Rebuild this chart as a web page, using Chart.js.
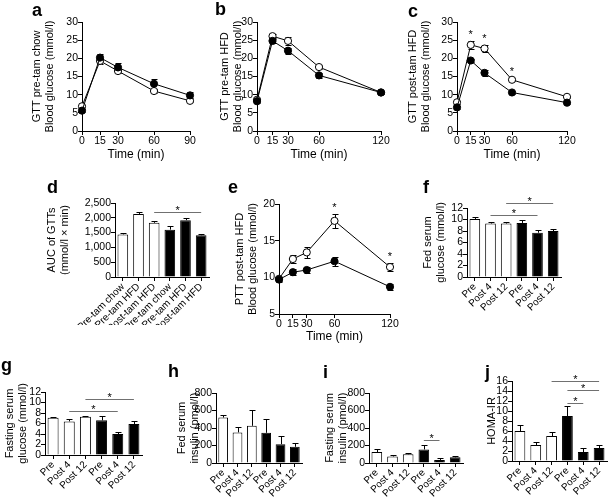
<!DOCTYPE html>
<html>
<head>
<meta charset="utf-8">
<script src="https://cdn.jsdelivr.net/npm/chart.js@4.4.0/dist/chart.umd.min.js"></script>
<style>
  html, body { margin: 0; padding: 0; background: #fff; }
  #fig { position: relative; width: 609px; height: 497px; overflow: hidden; }
  #fig canvas { position: absolute; }
  .lt { position: absolute; font: bold 18px 'Liberation Sans', Arial, sans-serif; line-height: 18px; color: #000; }
</style>
</head>
<body>
<div id="fig"></div>
<script>
/* ─── data ─── */
const timesA = [0, 15, 30, 60, 90];
const timesB = [0, 15, 30, 60, 120];

// a: GTT pre-tam chow
const aBlack = [5.6, 20.2, 17.5, 13.0, 9.8];
const aBlackErr = [0.5, 1.1, 1.3, 1.4, 0.8];
const aWhite = [6.8, 19.3, 16.5, 11.0, 8.3];
const aWhiteErr = [0.3, 0.8, 0.6, 0.5, 0.4];

// b: GTT pre-tam HFD
const bBlack = [8.2, 24.8, 22.1, 15.3, 10.6];
const bBlackErr = [0.5, 0.5, 0.8, 0.6, 0.4];
const bWhite = [8.6, 26.1, 24.8, 17.6, 10.6];
const bWhiteErr = [0.5, 0.6, 1.0, 0.6, 0.4];

// c: GTT post-tam HFD
const cBlack = [6.5, 19.4, 16.0, 10.6, 7.8];
const cBlackErr = [0.4, 0.5, 0.8, 0.4, 0.3];
const cWhite = [7.9, 23.7, 22.7, 14.1, 9.4];
const cWhiteErr = [0.4, 1.0, 1.0, 0.4, 0.3];
const cStars = [15, 30, 60];

// e: PTT post-tam HFD
const eBlack = [9.7, 10.7, 11.0, 12.2, 8.7];
const eBlackErr = [0.4, 0.4, 0.4, 0.6, 0.4];
const eWhite = [9.8, 12.5, 13.4, 17.7, 11.4];
const eWhiteErr = [0.3, 0.5, 0.8, 1.0, 0.6];
const eStars = [60, 120];

// d: AUC
const aucLabels = ['Pre-tam chow', 'Pre-tam HFD', 'Post-tam HFD', 'Pre-tam chow', 'Pre-tam HFD', 'Post-tam HFD'];
const aucMean = [1440, 2130, 1830, 1600, 1920, 1410];
const aucErr = [40, 60, 50, 130, 80, 50];
const aucSig = [[2, 5, 2200]];

// f-j
const grpLabels = ['Pre', 'Post 4', 'Post 12', 'Pre', 'Post 4', 'Post 12'];
const fedGlu = [10.1, 9.3, 9.3, 9.4, 7.7, 8.0];
const fedGluErr = [0.3, 0.3, 0.3, 0.6, 0.4, 0.4];
const fedGluSig = [[1, 4, 10.8], [2, 5, 12.9]];

const fastGlu = [7.1, 6.4, 7.3, 6.6, 4.0, 5.9];
const fastGluErr = [0.2, 0.5, 0.2, 0.8, 0.3, 0.6];
const fastGluSig = [[1, 4, 8.4], [2, 5, 10.7]];

const fedIns = [520, 350, 425, 345, 215, 185];
const fedInsErr = [30, 60, 180, 160, 95, 40];

const fastIns = [125, 75, 100, 155, 35, 65];
const fastInsErr = [35, 15, 12, 55, 18, 12];
const fastInsSig = [[3, 4, 265]];

const homa = [6.0, 3.2, 5.0, 9.0, 1.8, 2.6];
const homaErr = [1.2, 0.7, 0.8, 2.1, 0.8, 0.6];
const homaSig = [[2, 5, 16], [3, 5, 14.2], [3, 4, 11.7]];

/* ─── estilo ─── */
const FONT = "'Liberation Sans', Arial, sans-serif";
const LH = 13.2;
const GROUP_COLORS = ['#fff', '#fff', '#fff', '#000', '#000', '#000'];

/* ─── plugins: barras de erro + significância ─── */
function drawErrors(chart, upOnly) {
  const ctx = chart.ctx, ys = chart.scales.y;
  ctx.save();
  ctx.strokeStyle = '#000';
  ctx.lineWidth = 1;
  chart.data.datasets.forEach((ds, di) => {
    if (!ds.errs) return;
    chart.getDatasetMeta(di).data.forEach((el, i) => {
      const v = upOnly ? ds.data[i] : ds.data[i].y;
      const x = Math.round(el.x) + 0.5;
      const yt = Math.round(ys.getPixelForValue(v + ds.errs[i])) + 0.5;
      const yb = upOnly ? el.y : Math.round(ys.getPixelForValue(v - ds.errs[i])) + 0.5;
      ctx.beginPath();
      ctx.moveTo(x, yb); ctx.lineTo(x, yt);
      ctx.moveTo(x - 3, yt); ctx.lineTo(x + 3, yt);
      if (!upOnly) { ctx.moveTo(x - 3, yb); ctx.lineTo(x + 3, yb); }
      ctx.stroke();
    });
  });
  ctx.restore();
}

const errorBars = {
  id: 'errorBars',
  beforeDatasetsDraw(chart) { if (chart.config.type === 'line') drawErrors(chart, false); },
  afterDatasetsDraw(chart) { if (chart.config.type === 'bar') drawErrors(chart, true); }
};

const sig = {
  id: 'sig',
  afterDraw(chart, args, opts) {
    const ctx = chart.ctx, xs = chart.scales.x, ys = chart.scales.y;
    ctx.save();
    ctx.font = '11px ' + FONT;
    ctx.textAlign = 'center';
    ctx.fillStyle = '#000';
    (opts.lines || []).forEach(([a, b, v]) => {
      const y = Math.round(ys.getPixelForValue(v)) + 0.5;
      const xa = xs.getPixelForValue(a), xb = xs.getPixelForValue(b);
      ctx.strokeStyle = '#707070';
      ctx.lineWidth = 1;
      ctx.beginPath(); ctx.moveTo(xa, y); ctx.lineTo(xb, y); ctx.stroke();
      ctx.fillText('*', (xa + xb) / 2, y + 1);
    });
    (opts.stars || []).forEach(t => {
      let top = Infinity;
      chart.data.datasets.forEach(ds => {
        const i = ds.data.findIndex(p => p.x === t);
        top = Math.min(top, ys.getPixelForValue(ds.data[i].y + ds.errs[i]));
      });
      ctx.fillText('*', xs.getPixelForValue(t), top - 3);
    });
    ctx.restore();
  }
};

Chart.register(errorBars, sig);

/* ─── helpers ─── */
function addCanvas(x, y, w, h) {
  const c = document.createElement('canvas');
  c.width = w; c.height = h;
  c.style.left = x + 'px'; c.style.top = y + 'px';
  c.style.width = w + 'px'; c.style.height = h + 'px';
  document.getElementById('fig').appendChild(c);
  return c;
}

function axisBase(extra) {
  return Object.assign({
    grid: { drawOnChartArea: false, drawTicks: true, tickLength: 4, color: '#000', lineWidth: 1 },
    border: { display: true, color: '#000', width: 1 },
  }, extra);
}

function yTitle(text) {
  return { display: true, text, color: '#000', padding: 0, font: { family: FONT, size: 11, lineHeight: 1.2 } };
}

function tickFont() { return { family: FONT, size: 10.5 }; }

function yTicks(step) {
  return { stepSize: step, color: '#000', font: tickFont(), padding: 0, autoSkip: false };
}

// box: l,t,r,b = área do gráfico; tx = centro da 1ª linha do título Y; xt = centro do título X
function panel(box, type, data, xScale, yScale, sigOpts) {
  const cl = Math.round(box.tx - LH / 2);
  const mt = 22;
  const ct = box.t - mt;
  const cb = box.xt ? Math.round(box.xt + 7) : box.b + 48;
  const mr = type === 'line' ? 14 : 6;
  const w = box.r - cl + mr, h = cb - ct;
  const ml = box.l - cl, mb = cb - box.b;
  const canvas = addCanvas(cl, ct, w, h);
  xScale.afterFit = s => { s.height = mb; };
  yScale.afterFit = s => { s.width = ml; };
  new Chart(canvas, {
    type,
    data,
    options: {
      responsive: false,
      animation: false,
      devicePixelRatio: 1,
      locale: 'en-US',
      layout: { padding: { top: mt, right: mr, left: 0, bottom: 0 } },
      plugins: { legend: { display: false }, tooltip: { enabled: false }, sig: sigOpts || {} },
      scales: { x: xScale, y: yScale }
    }
  });
}

function linePanel(box, times, black, blackErr, white, whiteErr, yMin, yMax, yStep, title, stars) {
  const pts = arr => times.map((t, i) => ({ x: t, y: arr[i] }));
  const common = { borderColor: '#000', borderWidth: 1, pointRadius: 3.6, pointBorderColor: '#000',
                   pointBorderWidth: 1, tension: 0, clip: false };
  const data = {
    datasets: [
      Object.assign({ data: pts(black), errs: blackErr, pointBackgroundColor: '#000' }, common),
      Object.assign({ data: pts(white), errs: whiteErr, pointBackgroundColor: '#fff' }, common)
    ]
  };
  const x = axisBase({
    type: 'linear', min: 0, max: times[times.length - 1],
    afterBuildTicks: s => { s.ticks = times.map(v => ({ value: v })); },
    ticks: { color: '#000', font: tickFont(), padding: 0, autoSkip: false, maxRotation: 0 },
    title: { display: true, text: 'Time (min)', color: '#000', padding: 0, font: { family: FONT, size: 12, lineHeight: 1.2 } }
  });
  const y = axisBase({ type: 'linear', min: yMin, max: yMax, ticks: yTicks(yStep), title: yTitle(title) });
  panel(box, 'line', data, x, y, { stars: stars || [] });
}

function barPanel(box, labels, vals, errs, yMax, yStep, title, lines) {
  const data = {
    labels,
    datasets: [{
      data: vals, errs,
      backgroundColor: GROUP_COLORS, borderColor: '#000', borderWidth: 1,
      barPercentage: 0.68, categoryPercentage: 1
    }]
  };
  const x = axisBase({
    type: 'category',
    grid: { drawOnChartArea: false, drawTicks: true, tickLength: 4, color: '#000', lineWidth: 1, offset: false },
    ticks: { color: '#000', font: { family: FONT, size: 10 }, padding: 0, autoSkip: false, minRotation: 45, maxRotation: 45 }
  });
  const y = axisBase({ type: 'linear', min: 0, max: yMax, ticks: yTicks(yStep), title: yTitle(title) });
  panel(box, 'bar', data, x, y, { lines: lines || [] });
}

/* ─── painéis ─── */
linePanel({ l: 82, t: 22, r: 190, b: 131, tx: 37, xt: 155 }, timesA, aBlack, aBlackErr, aWhite, aWhiteErr,
  0, 30, 5, ['GTT pre-tam chow', 'Blood glucose (mmol/l)']);
linePanel({ l: 257, t: 22, r: 381, b: 131, tx: 225, xt: 155 }, timesB, bBlack, bBlackErr, bWhite, bWhiteErr,
  0, 30, 5, ['GTT pre-tam HFD', 'Blood glucose (mmol/l)']);
linePanel({ l: 457, t: 22, r: 567, b: 131, tx: 413, xt: 155 }, timesB, cBlack, cBlackErr, cWhite, cWhiteErr,
  0, 30, 5, ['GTT post-tam HFD', 'Blood glucose (mmol/l)'], cStars);

barPanel({ l: 115, t: 203, r: 209, b: 277, tx: 52 }, aucLabels, aucMean, aucErr,
  2500, 500, ['AUC of GTTs', '(mmol/l \u00d7 min)'], aucSig);
linePanel({ l: 279, t: 204, r: 390, b: 314, tx: 240, xt: 337 }, timesB, eBlack, eBlackErr, eWhite, eWhiteErr,
  5, 20, 5, ['PTT post-tam HFD', 'Blood glucose (mmol/l)'], eStars);
barPanel({ l: 467, t: 208, r: 561, b: 277, tx: 428 }, grpLabels, fedGlu, fedGluErr,
  12, 2, ['Fed serum', 'glucose (mmol/l)'], fedGluSig);

barPanel({ l: 45, t: 392, r: 142, b: 455, tx: 10 }, grpLabels, fastGlu, fastGluErr,
  12, 2, ['Fasting serum', 'glucose (mmol/l)'], fastGluSig);
barPanel({ l: 216, t: 393, r: 302, b: 463, tx: 182 }, grpLabels, fedIns, fedInsErr,
  800, 200, ['Fed serum', 'insulin (pmol/l)']);
barPanel({ l: 369, t: 393, r: 463, b: 463, tx: 330 }, grpLabels, fastIns, fastInsErr,
  800, 200, ['Fasting serum', 'insulin (pmol/l)'], fastInsSig);
barPanel({ l: 512, t: 381, r: 607, b: 461, tx: 492 }, grpLabels, homa, homaErr,
  16, 2, 'HOMA-IR', homaSig);

/* ─── letras dos painéis ─── */
const letters = [['a', 32, 16], ['b', 215, 15], ['c', 408, 17], ['d', 47, 193], ['e', 228, 193],
                 ['f', 423, 193], ['g', 1, 371], ['h', 168, 377], ['i', 323, 378], ['j', 485, 378]];
letters.forEach(([txt, x, base]) => {
  const d = document.createElement('div');
  d.className = 'lt';
  d.textContent = txt;
  d.style.left = x + 'px';
  d.style.top = (base - 15) + 'px';
  document.getElementById('fig').appendChild(d);
});
</script>
</body>
</html>
